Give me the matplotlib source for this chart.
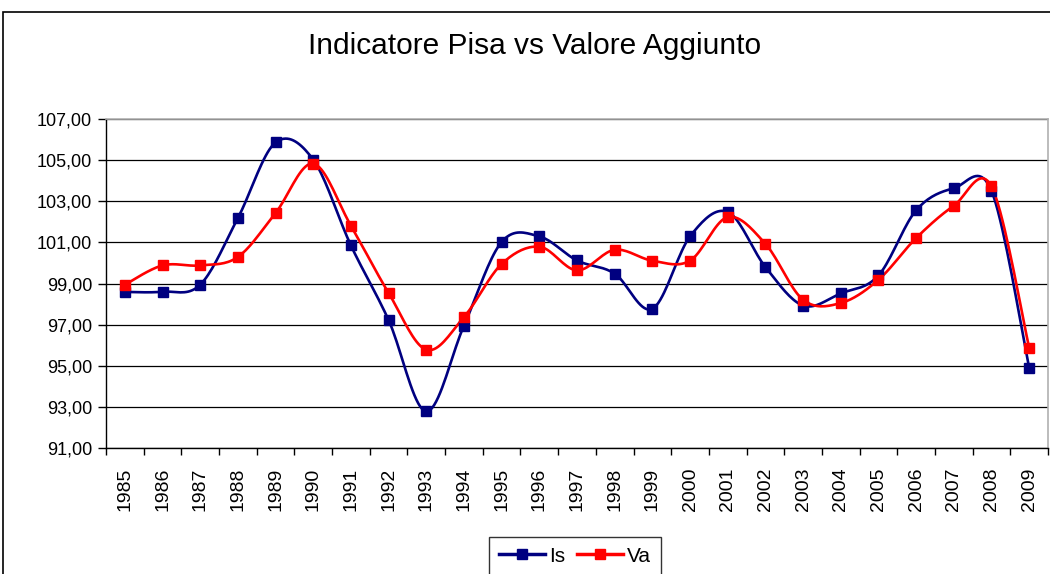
import numpy as np
import matplotlib.pyplot as plt
from matplotlib.patches import Rectangle

years = [str(y) for y in range(1985, 2010)]
is_vals = [98.59, 98.60, 98.94, 102.18, 105.86, 105.02, 100.85, 97.22, 92.78, 96.95,
           101.02, 101.29, 100.12, 99.48, 97.77, 101.29, 102.48, 99.80, 97.93, 98.52,
           99.39, 102.56, 103.63, 103.51, 94.89]
va_vals = [98.94, 99.88, 99.88, 100.29, 102.43, 104.83, 101.81, 98.54, 95.78, 97.37,
           99.95, 100.79, 99.64, 100.64, 100.11, 100.11, 102.23, 100.93, 98.21, 98.05,
           99.18, 101.21, 102.78, 103.72, 95.88]
yticks = [91, 93, 95, 97, 99, 101, 103, 105, 107]


def smooth(y, steps=20):
    # excel-like smoothed line: bezier segments through every point
    x = np.arange(len(y), dtype=float)
    y = np.asarray(y, dtype=float)
    n = len(y)
    xs, ys = [], []
    t = np.linspace(0, 1, steps)
    for i in range(n - 1):
        a = max(i - 1, 0)
        b = min(i + 2, n - 1)
        c1x = x[i] + (x[i + 1] - x[a]) / 6
        c1y = y[i] + (y[i + 1] - y[a]) / 6
        c2x = x[i + 1] - (x[b] - x[i]) / 6
        c2y = y[i + 1] - (y[b] - y[i]) / 6
        bx = (1 - t)**3 * x[i] + 3 * (1 - t)**2 * t * c1x + 3 * (1 - t) * t**2 * c2x + t**3 * x[i + 1]
        by = (1 - t)**3 * y[i] + 3 * (1 - t)**2 * t * c1y + 3 * (1 - t) * t**2 * c2y + t**3 * y[i + 1]
        xs.extend(bx)
        ys.extend(by)
    return xs, ys


plt.rcParams['font.family'] = ['Liberation Sans', 'DejaVu Sans']
fig = plt.figure(figsize=(10.5, 5.74), dpi=100)
ax = fig.add_axes([106 / 1050, 1 - 448 / 574, (1048 - 106) / 1050, (448 - 119) / 574])

x = np.arange(len(years))
for vals, col, name in [(is_vals, '#000080', 'Is'), (va_vals, '#ff0000', 'Va')]:
    sx, sy = smooth(vals)
    ax.plot(sx, sy, color=col, linewidth=1.9, zorder=3)
    ax.plot(x, vals, linestyle='none', marker='s', markersize=6.5, color=col, zorder=4)

ax.set_xlim(-0.5, len(years) - 0.5)
ax.set_ylim(91, 107)
ax.set_yticks(yticks)
ax.set_yticklabels([f"{v:.2f}".replace('.', ',') for v in yticks], fontsize=13)
ax.set_xticks(x)
ax.set_xticklabels(years, rotation=90, fontsize=14)
ax.set_xticks(np.arange(-0.5, len(years)), minor=True)
ax.tick_params(axis='x', which='major', length=0, pad=14)
ax.tick_params(axis='x', which='minor', length=5, direction='out', width=1)
ax.tick_params(axis='y', length=6, direction='out', width=1, pad=4)
ax.yaxis.grid(True, color='black', linewidth=0.9)
ax.set_axisbelow(True)
for s in ['top', 'right']:
    ax.spines[s].set_color('#b0b0b0')
    ax.spines[s].set_linewidth(1.2)
for s in ['left', 'bottom']:
    ax.spines[s].set_color('black')
    ax.spines[s].set_linewidth(1)

h1, = ax.plot([], [], color='#000080', linewidth=2.5, marker='s', markersize=6.5)
h2, = ax.plot([], [], color='#ff0000', linewidth=2.5, marker='s', markersize=6.5)
leg = fig.legend([h1, h2], ['Is', 'Va'], loc='center', bbox_to_anchor=(575 / 1050, 1 - 556 / 574),
                 ncol=2, fontsize=15, frameon=True, fancybox=False, handlelength=2.2,
                 handletextpad=0.2, columnspacing=0.6, borderpad=0.45)
leg.get_frame().set_edgecolor('black')
leg.get_frame().set_linewidth(1)

fig.text(535 / 1050, 1 - 46 / 574, 'Indicatore Pisa vs Valore Aggiunto', ha='center', va='center',
         fontsize=21.5)
fig.patches.append(Rectangle((3 / 1050, -0.1), 1.2, 1.1 - 12 / 574, transform=fig.transFigure,
                             fill=False, edgecolor='black', linewidth=1.2))

fig.savefig('out.png', dpi=100)
